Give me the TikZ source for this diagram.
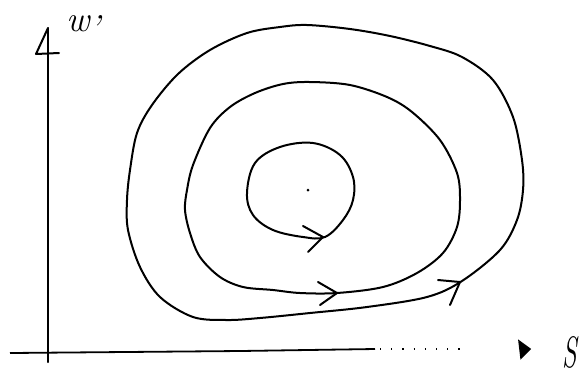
\documentclass[tikz,border=0pt]{standalone}
\begin{document}
\begin{tikzpicture}[x=1pt,y=-1pt,
  curve/.style={line width=2pt,line join=round,line cap=round},
  barb/.style={line width=2pt,line cap=round,line join=round},
  lbl/.style={inner sep=0pt,font=\fontsize{44}{44}\selectfont\itshape}]
\useasboundingbox (0,0) rectangle (580,376);
% axes
\coordinate (O) at (48,352);
\coordinate (ytip) at (48,28);
\draw[curve] (48,362) -- (ytip);
\draw[barb] (ytip) -- (36,54) -- (59,53);
\draw[line width=1.8pt] (10,353) -- (240,351) -- (375,349);
\draw[line width=1.6pt,dash pattern=on 1.2pt off 10pt] (380,349) -- (462,349);
\draw[line width=1.5pt,fill=black] (519,341) -- (530,349) -- (521,358) -- cycle;
\node[lbl,anchor=base] (S) at (570,367) {\scalebox{0.6}[1]{S}};
\node[lbl,anchor=base west,font=\fontsize{36}{36}\selectfont\itshape] (W) at (66,31) {w\raisebox{-9pt}{'}};
% outer orbit
\draw[curve] plot[smooth cycle,tension=0.55] coordinates {
(307,25)(350,29)(390,36)(430,46)(462,57)(493,80)(513,117)(522,160)(523,190)(517,220)(500,250)(462,281)(427,297)(367,307)(310,313)(260,318)(227,320)(193,317)(160,297)(140,267)(128,230)(127,200)(130,170)(137,133)(152,105)(178,74)(210,50)(247,33)(280,27)};
% middle orbit
\draw[curve] plot[smooth cycle,tension=0.55] coordinates {
(310,82)(350,85)(387,97)(412,112)(440,140)(457,173)(460,200)(457,227)(443,253)(417,273)(383,287)(337,293)(300,293)(273,290)(243,287)(220,277)(200,257)(190,233)(185,210)(187,190)(193,165)(210,128)(230,107)(255,93)(283,84)};
% inner orbit
\draw[curve] plot[smooth cycle,tension=0.6] coordinates {
(313,143)(340,155)(353,177)(353,200)(343,220)(325,237)(303,237)(273,230)(253,215)(247,193)(255,163)(280,147)};
% equilibrium
\fill (308,190) circle (1.5pt);
% arrowheads
\draw[barb] (303,226) -- (323,237) -- (308,252);
\draw[barb] (318,282) -- (337,293) -- (320,305);
\draw[barb] (438,280) -- (460,282) -- (450,305);
\end{tikzpicture}
\end{document}
